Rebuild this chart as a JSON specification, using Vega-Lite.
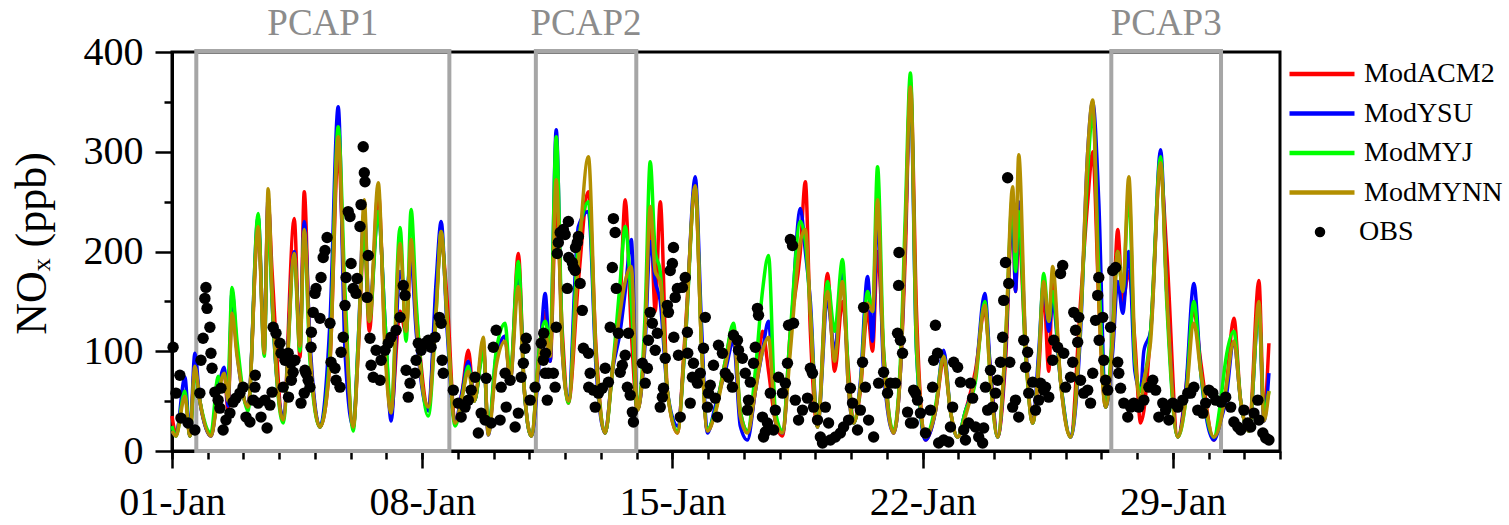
{
  "$schema": "https://vega.github.io/schema/vega-lite/v6.json",
  "width": 1108,
  "height": 399,
  "autosize": "none",
  "padding": {"left": 172, "top": 52, "right": 229, "bottom": 74},
  "background": "white",
  "config": {
    "view": {"stroke": "black", "strokeWidth": 3},
    "font": "Liberation Serif, serif"
  },
  "datasets": {
    "pcap": [
      {"name": "PCAP1", "start": 0.68, "end": 7.76, "mid": 4.22},
      {"name": "PCAP2", "start": 10.18, "end": 12.99, "mid": 11.585},
      {"name": "PCAP3", "start": 26.28, "end": 29.35, "mid": 27.815}
    ],
    "model": [
      {"d":0,"ModACM2":35,"ModYSU":20,"ModMYJ":25,"ModMYNN":20},
      {"d":0.11,"ModACM2":18,"ModYSU":15,"ModMYJ":15,"ModMYNN":15},
      {"d":0.36,"ModACM2":60,"ModYSU":74,"ModMYJ":60,"ModMYNN":55},
      {"d":0.5,"ModACM2":15,"ModYSU":15,"ModMYJ":15,"ModMYNN":15},
      {"d":0.64,"ModACM2":85,"ModYSU":98,"ModMYJ":80,"ModMYNN":85},
      {"d":0.78,"ModACM2":50,"ModYSU":50,"ModMYJ":50,"ModMYNN":50},
      {"d":1.09,"ModACM2":15,"ModYSU":15,"ModMYJ":18,"ModMYNN":15},
      {"d":1.29,"ModACM2":60,"ModYSU":60,"ModMYJ":75,"ModMYNN":55},
      {"d":1.46,"ModACM2":80,"ModYSU":84,"ModMYJ":60,"ModMYNN":78},
      {"d":1.57,"ModACM2":40,"ModYSU":45,"ModMYJ":70,"ModMYNN":50},
      {"d":1.68,"ModACM2":150,"ModYSU":160,"ModMYJ":164,"ModMYNN":138},
      {"d":1.82,"ModACM2":100,"ModYSU":100,"ModMYJ":110,"ModMYNN":95},
      {"d":2.13,"ModACM2":45,"ModYSU":44,"ModMYJ":40,"ModMYNN":44},
      {"d":2.41,"ModACM2":225,"ModYSU":235,"ModMYJ":238,"ModMYNN":225},
      {"d":2.58,"ModACM2":110,"ModYSU":100,"ModMYJ":95,"ModMYNN":98},
      {"d":2.69,"ModACM2":250,"ModYSU":255,"ModMYJ":240,"ModMYNN":263},
      {"d":2.8,"ModACM2":180,"ModYSU":150,"ModMYJ":150,"ModMYNN":160},
      {"d":3.11,"ModACM2":31,"ModYSU":35,"ModMYJ":28,"ModMYNN":31},
      {"d":3.42,"ModACM2":233,"ModYSU":200,"ModMYJ":195,"ModMYNN":198},
      {"d":3.58,"ModACM2":94,"ModYSU":110,"ModMYJ":100,"ModMYNN":105},
      {"d":3.7,"ModACM2":260,"ModYSU":230,"ModMYJ":220,"ModMYNN":222},
      {"d":3.86,"ModACM2":100,"ModYSU":110,"ModMYJ":90,"ModMYNN":100},
      {"d":4.14,"ModACM2":24,"ModYSU":24,"ModMYJ":24,"ModMYNN":24},
      {"d":4.42,"ModACM2":90,"ModYSU":130,"ModMYJ":100,"ModMYNN":90},
      {"d":4.65,"ModACM2":300,"ModYSU":345,"ModMYJ":325,"ModMYNN":315},
      {"d":4.84,"ModACM2":140,"ModYSU":100,"ModMYJ":160,"ModMYNN":140},
      {"d":5.07,"ModACM2":24,"ModYSU":24,"ModMYJ":20,"ModMYNN":24},
      {"d":5.21,"ModACM2":100,"ModYSU":110,"ModMYJ":110,"ModMYNN":100},
      {"d":5.38,"ModACM2":215,"ModYSU":240,"ModMYJ":220,"ModMYNN":252},
      {"d":5.52,"ModACM2":120,"ModYSU":140,"ModMYJ":130,"ModMYNN":130},
      {"d":5.77,"ModACM2":260,"ModYSU":240,"ModMYJ":240,"ModMYNN":269},
      {"d":5.96,"ModACM2":110,"ModYSU":130,"ModMYJ":130,"ModMYNN":100},
      {"d":6.13,"ModACM2":38,"ModYSU":30,"ModMYJ":40,"ModMYNN":38},
      {"d":6.38,"ModACM2":140,"ModYSU":180,"ModMYJ":224,"ModMYNN":208},
      {"d":6.55,"ModACM2":118,"ModYSU":160,"ModMYJ":110,"ModMYNN":120},
      {"d":6.69,"ModACM2":200,"ModYSU":190,"ModMYJ":242,"ModMYNN":212},
      {"d":6.83,"ModACM2":140,"ModYSU":120,"ModMYJ":150,"ModMYNN":130},
      {"d":7.17,"ModACM2":44,"ModYSU":40,"ModMYJ":35,"ModMYNN":44},
      {"d":7.39,"ModACM2":150,"ModYSU":170,"ModMYJ":140,"ModMYNN":140},
      {"d":7.53,"ModACM2":210,"ModYSU":230,"ModMYJ":220,"ModMYNN":220},
      {"d":7.7,"ModACM2":150,"ModYSU":120,"ModMYJ":130,"ModMYNN":130},
      {"d":7.92,"ModACM2":28,"ModYSU":30,"ModMYJ":25,"ModMYNN":28},
      {"d":8.12,"ModACM2":60,"ModYSU":60,"ModMYJ":55,"ModMYNN":55},
      {"d":8.29,"ModACM2":101,"ModYSU":90,"ModMYJ":85,"ModMYNN":80},
      {"d":8.46,"ModACM2":50,"ModYSU":50,"ModMYJ":50,"ModMYNN":50},
      {"d":8.71,"ModACM2":105,"ModYSU":105,"ModMYJ":100,"ModMYNN":114},
      {"d":8.85,"ModACM2":18,"ModYSU":16,"ModMYJ":20,"ModMYNN":16},
      {"d":9.07,"ModACM2":90,"ModYSU":95,"ModMYJ":100,"ModMYNN":85},
      {"d":9.32,"ModACM2":115,"ModYSU":115,"ModMYJ":128,"ModMYNN":110},
      {"d":9.46,"ModACM2":70,"ModYSU":70,"ModMYJ":75,"ModMYNN":70},
      {"d":9.69,"ModACM2":198,"ModYSU":180,"ModMYJ":190,"ModMYNN":165},
      {"d":9.86,"ModACM2":60,"ModYSU":60,"ModMYJ":60,"ModMYNN":60},
      {"d":10.05,"ModACM2":15,"ModYSU":15,"ModMYJ":15,"ModMYNN":15},
      {"d":10.3,"ModACM2":110,"ModYSU":100,"ModMYJ":110,"ModMYNN":100},
      {"d":10.44,"ModACM2":140,"ModYSU":158,"ModMYJ":130,"ModMYNN":120},
      {"d":10.58,"ModACM2":90,"ModYSU":90,"ModMYJ":110,"ModMYNN":95},
      {"d":10.75,"ModACM2":250,"ModYSU":322,"ModMYJ":315,"ModMYNN":272},
      {"d":10.92,"ModACM2":120,"ModYSU":100,"ModMYJ":110,"ModMYNN":100},
      {"d":11.09,"ModACM2":48,"ModYSU":52,"ModMYJ":48,"ModMYNN":50},
      {"d":11.37,"ModACM2":170,"ModYSU":225,"ModMYJ":210,"ModMYNN":190},
      {"d":11.65,"ModACM2":260,"ModYSU":240,"ModMYJ":250,"ModMYNN":295},
      {"d":11.87,"ModACM2":100,"ModYSU":80,"ModMYJ":90,"ModMYNN":90},
      {"d":12.12,"ModACM2":18,"ModYSU":18,"ModMYJ":18,"ModMYNN":18},
      {"d":12.32,"ModACM2":80,"ModYSU":80,"ModMYJ":80,"ModMYNN":80},
      {"d":12.54,"ModACM2":150,"ModYSU":120,"ModMYJ":170,"ModMYNN":140},
      {"d":12.68,"ModACM2":252,"ModYSU":160,"ModMYJ":225,"ModMYNN":170},
      {"d":12.85,"ModACM2":120,"ModYSU":212,"ModMYJ":150,"ModMYNN":185},
      {"d":13.02,"ModACM2":41,"ModYSU":41,"ModMYJ":41,"ModMYNN":41},
      {"d":13.24,"ModACM2":120,"ModYSU":110,"ModMYJ":140,"ModMYNN":120},
      {"d":13.38,"ModACM2":240,"ModYSU":210,"ModMYJ":290,"ModMYNN":245},
      {"d":13.52,"ModACM2":140,"ModYSU":170,"ModMYJ":200,"ModMYNN":180},
      {"d":13.66,"ModACM2":250,"ModYSU":150,"ModMYJ":180,"ModMYNN":170},
      {"d":13.86,"ModACM2":60,"ModYSU":60,"ModMYJ":60,"ModMYNN":60},
      {"d":14.14,"ModACM2":18,"ModYSU":25,"ModMYJ":20,"ModMYNN":18},
      {"d":14.36,"ModACM2":120,"ModYSU":110,"ModMYJ":110,"ModMYNN":115},
      {"d":14.64,"ModACM2":260,"ModYSU":275,"ModMYJ":265,"ModMYNN":266},
      {"d":14.81,"ModACM2":110,"ModYSU":130,"ModMYJ":110,"ModMYNN":110},
      {"d":14.98,"ModACM2":20,"ModYSU":18,"ModMYJ":22,"ModMYNN":20},
      {"d":15.2,"ModACM2":40,"ModYSU":45,"ModMYJ":40,"ModMYNN":38},
      {"d":15.48,"ModACM2":90,"ModYSU":80,"ModMYJ":90,"ModMYNN":85},
      {"d":15.71,"ModACM2":125,"ModYSU":110,"ModMYJ":128,"ModMYNN":120},
      {"d":15.9,"ModACM2":40,"ModYSU":25,"ModMYJ":40,"ModMYNN":35},
      {"d":16.1,"ModACM2":20,"ModYSU":11,"ModMYJ":20,"ModMYNN":18},
      {"d":16.32,"ModACM2":60,"ModYSU":60,"ModMYJ":80,"ModMYNN":60},
      {"d":16.52,"ModACM2":120,"ModYSU":100,"ModMYJ":160,"ModMYNN":100},
      {"d":16.69,"ModACM2":80,"ModYSU":130,"ModMYJ":196,"ModMYNN":114},
      {"d":16.88,"ModACM2":30,"ModYSU":30,"ModMYJ":40,"ModMYNN":30},
      {"d":17.08,"ModACM2":15,"ModYSU":18,"ModMYJ":20,"ModMYNN":18},
      {"d":17.3,"ModACM2":120,"ModYSU":110,"ModMYJ":120,"ModMYNN":100},
      {"d":17.58,"ModACM2":200,"ModYSU":243,"ModMYJ":230,"ModMYNN":210},
      {"d":17.72,"ModACM2":270,"ModYSU":200,"ModMYJ":210,"ModMYNN":222},
      {"d":17.86,"ModACM2":120,"ModYSU":150,"ModMYJ":140,"ModMYNN":140},
      {"d":18.06,"ModACM2":24,"ModYSU":24,"ModMYJ":24,"ModMYNN":24},
      {"d":18.34,"ModACM2":178,"ModYSU":150,"ModMYJ":170,"ModMYNN":160},
      {"d":18.54,"ModACM2":80,"ModYSU":100,"ModMYJ":120,"ModMYNN":90},
      {"d":18.76,"ModACM2":150,"ModYSU":180,"ModMYJ":192,"ModMYNN":170},
      {"d":18.93,"ModACM2":80,"ModYSU":60,"ModMYJ":70,"ModMYNN":60},
      {"d":19.07,"ModACM2":28,"ModYSU":28,"ModMYJ":28,"ModMYNN":28},
      {"d":19.26,"ModACM2":60,"ModYSU":70,"ModMYJ":65,"ModMYNN":65},
      {"d":19.46,"ModACM2":140,"ModYSU":175,"ModMYJ":160,"ModMYNN":148},
      {"d":19.6,"ModACM2":100,"ModYSU":110,"ModMYJ":140,"ModMYNN":140},
      {"d":19.74,"ModACM2":200,"ModYSU":240,"ModMYJ":285,"ModMYNN":252},
      {"d":19.91,"ModACM2":100,"ModYSU":80,"ModMYJ":100,"ModMYNN":90},
      {"d":20.19,"ModACM2":18,"ModYSU":18,"ModMYJ":20,"ModMYNN":18},
      {"d":20.38,"ModACM2":80,"ModYSU":80,"ModMYJ":90,"ModMYNN":80},
      {"d":20.52,"ModACM2":200,"ModYSU":220,"ModMYJ":240,"ModMYNN":220},
      {"d":20.66,"ModACM2":370,"ModYSU":360,"ModMYJ":379,"ModMYNN":365},
      {"d":20.83,"ModACM2":140,"ModYSU":100,"ModMYJ":100,"ModMYNN":120},
      {"d":21.08,"ModACM2":11,"ModYSU":11,"ModMYJ":14,"ModMYNN":14},
      {"d":21.36,"ModACM2":40,"ModYSU":40,"ModMYJ":45,"ModMYNN":40},
      {"d":21.59,"ModACM2":90,"ModYSU":101,"ModMYJ":95,"ModMYNN":95},
      {"d":21.78,"ModACM2":40,"ModYSU":40,"ModMYJ":40,"ModMYNN":40},
      {"d":21.98,"ModACM2":14,"ModYSU":14,"ModMYJ":14,"ModMYNN":14},
      {"d":22.2,"ModACM2":40,"ModYSU":40,"ModMYJ":40,"ModMYNN":35},
      {"d":22.48,"ModACM2":81,"ModYSU":75,"ModMYJ":70,"ModMYNN":75},
      {"d":22.74,"ModACM2":140,"ModYSU":158,"ModMYJ":150,"ModMYNN":146},
      {"d":22.9,"ModACM2":80,"ModYSU":80,"ModMYJ":70,"ModMYNN":70},
      {"d":23.1,"ModACM2":14,"ModYSU":14,"ModMYJ":14,"ModMYNN":14},
      {"d":23.32,"ModACM2":90,"ModYSU":100,"ModMYJ":110,"ModMYNN":110},
      {"d":23.52,"ModACM2":240,"ModYSU":250,"ModMYJ":255,"ModMYNN":265},
      {"d":23.6,"ModACM2":160,"ModYSU":160,"ModMYJ":180,"ModMYNN":200},
      {"d":23.69,"ModACM2":220,"ModYSU":250,"ModMYJ":240,"ModMYNN":297},
      {"d":23.88,"ModACM2":100,"ModYSU":110,"ModMYJ":100,"ModMYNN":110},
      {"d":24.08,"ModACM2":28,"ModYSU":28,"ModMYJ":28,"ModMYNN":28},
      {"d":24.25,"ModACM2":80,"ModYSU":100,"ModMYJ":90,"ModMYNN":90},
      {"d":24.39,"ModACM2":160,"ModYSU":170,"ModMYJ":178,"ModMYNN":170},
      {"d":24.53,"ModACM2":80,"ModYSU":120,"ModMYJ":130,"ModMYNN":130},
      {"d":24.64,"ModACM2":170,"ModYSU":150,"ModMYJ":160,"ModMYNN":185},
      {"d":24.86,"ModACM2":70,"ModYSU":70,"ModMYJ":70,"ModMYNN":70},
      {"d":25.14,"ModACM2":14,"ModYSU":14,"ModMYJ":14,"ModMYNN":14},
      {"d":25.42,"ModACM2":150,"ModYSU":120,"ModMYJ":130,"ModMYNN":130},
      {"d":25.62,"ModACM2":250,"ModYSU":300,"ModMYJ":280,"ModMYNN":300},
      {"d":25.76,"ModACM2":300,"ModYSU":350,"ModMYJ":340,"ModMYNN":352},
      {"d":25.93,"ModACM2":150,"ModYSU":250,"ModMYJ":180,"ModMYNN":150},
      {"d":26.12,"ModACM2":44,"ModYSU":44,"ModMYJ":44,"ModMYNN":44},
      {"d":26.32,"ModACM2":120,"ModYSU":100,"ModMYJ":120,"ModMYNN":110},
      {"d":26.46,"ModACM2":222,"ModYSU":170,"ModMYJ":200,"ModMYNN":200},
      {"d":26.6,"ModACM2":150,"ModYSU":138,"ModMYJ":160,"ModMYNN":160},
      {"d":26.77,"ModACM2":180,"ModYSU":200,"ModMYJ":260,"ModMYNN":275},
      {"d":26.94,"ModACM2":110,"ModYSU":80,"ModMYJ":90,"ModMYNN":100},
      {"d":27.1,"ModACM2":28,"ModYSU":60,"ModMYJ":60,"ModMYNN":50},
      {"d":27.19,"ModACM2":40,"ModYSU":100,"ModMYJ":70,"ModMYNN":70},
      {"d":27.38,"ModACM2":120,"ModYSU":120,"ModMYJ":120,"ModMYNN":110},
      {"d":27.66,"ModACM2":280,"ModYSU":302,"ModMYJ":295,"ModMYNN":289},
      {"d":27.83,"ModACM2":200,"ModYSU":160,"ModMYJ":150,"ModMYNN":160},
      {"d":28.14,"ModACM2":14,"ModYSU":14,"ModMYJ":14,"ModMYNN":14},
      {"d":28.36,"ModACM2":60,"ModYSU":60,"ModMYJ":50,"ModMYNN":50},
      {"d":28.59,"ModACM2":140,"ModYSU":168,"ModMYJ":150,"ModMYNN":128},
      {"d":28.78,"ModACM2":90,"ModYSU":80,"ModMYJ":80,"ModMYNN":80},
      {"d":29.15,"ModACM2":11,"ModYSU":11,"ModMYJ":14,"ModMYNN":14},
      {"d":29.34,"ModACM2":40,"ModYSU":30,"ModMYJ":50,"ModMYNN":30},
      {"d":29.48,"ModACM2":60,"ModYSU":50,"ModMYJ":91,"ModMYNN":60},
      {"d":29.71,"ModACM2":133,"ModYSU":110,"ModMYJ":120,"ModMYNN":110},
      {"d":29.9,"ModACM2":50,"ModYSU":50,"ModMYJ":50,"ModMYNN":50},
      {"d":30.13,"ModACM2":20,"ModYSU":20,"ModMYJ":20,"ModMYNN":20},
      {"d":30.41,"ModACM2":171,"ModYSU":140,"ModMYJ":140,"ModMYNN":150},
      {"d":30.55,"ModACM2":40,"ModYSU":30,"ModMYJ":40,"ModMYNN":30},
      {"d":30.69,"ModACM2":108,"ModYSU":78,"ModMYJ":60,"ModMYNN":60}
    ],
    "obs": [
      {"d":0.03,"v":104},{"d":0.22,"v":76},{"d":0.11,"v":58},{"d":0.25,"v":33},{"d":0.45,"v":28},{"d":0.64,"v":21},
      {"d":0.78,"v":58},{"d":0.81,"v":91},{"d":0.87,"v":113},{"d":0.92,"v":153},{"d":0.95,"v":164},{"d":0.98,"v":143},
      {"d":1.06,"v":124},{"d":1.09,"v":98},{"d":1.12,"v":83},{"d":1.2,"v":59},{"d":1.29,"v":51},{"d":1.34,"v":43},
      {"d":1.37,"v":63},{"d":1.43,"v":21},{"d":1.51,"v":31},{"d":1.62,"v":38},{"d":1.71,"v":49},{"d":1.79,"v":53},
      {"d":1.9,"v":58},{"d":1.99,"v":64},{"d":2.07,"v":34},{"d":2.18,"v":29},{"d":2.27,"v":51},{"d":2.32,"v":64},
      {"d":2.33,"v":76},{"d":2.41,"v":48},{"d":2.49,"v":34},{"d":2.6,"v":51},{"d":2.66,"v":23},{"d":2.74,"v":46},
      {"d":2.8,"v":59},{"d":2.83,"v":124},{"d":2.91,"v":118},{"d":3.02,"v":108},{"d":3.05,"v":98},{"d":3.16,"v":91},
      {"d":3.25,"v":98},{"d":3.33,"v":88},{"d":3.44,"v":91},{"d":3.11,"v":64},{"d":3.26,"v":54},{"d":3.34,"v":71},
      {"d":3.39,"v":79},{"d":3.61,"v":48},{"d":3.7,"v":58},{"d":3.75,"v":78},{"d":3.81,"v":71},{"d":3.86,"v":64},
      {"d":3.72,"v":81},{"d":3.89,"v":104},{"d":3.9,"v":119},{"d":3.95,"v":139},{"d":4.0,"v":158},{"d":4.03,"v":163},
      {"d":4.14,"v":133},{"d":4.17,"v":174},{"d":4.23,"v":194},{"d":4.28,"v":201},{"d":4.34,"v":214},{"d":4.42,"v":128},
      {"d":4.45,"v":89},{"d":4.56,"v":83},{"d":4.59,"v":71},{"d":4.7,"v":64},{"d":4.73,"v":99},{"d":4.79,"v":114},
      {"d":4.84,"v":146},{"d":4.87,"v":174},{"d":4.93,"v":240},{"d":4.98,"v":235},{"d":5.01,"v":188},{"d":5.07,"v":163},
      {"d":5.15,"v":158},{"d":5.18,"v":173},{"d":5.26,"v":225},{"d":5.29,"v":247},{"d":5.35,"v":305},{"d":5.38,"v":279},
      {"d":5.4,"v":270},{"d":5.49,"v":196},{"d":5.46,"v":154},{"d":5.54,"v":113},{"d":5.57,"v":86},{"d":5.63,"v":74},
      {"d":5.71,"v":101},{"d":5.82,"v":71},{"d":5.85,"v":91},{"d":5.96,"v":101},{"d":6.05,"v":108},{"d":6.13,"v":114},
      {"d":6.27,"v":121},{"d":6.38,"v":134},{"d":6.47,"v":166},{"d":6.52,"v":156},{"d":6.55,"v":81},{"d":6.66,"v":68},
      {"d":6.61,"v":54},{"d":6.8,"v":78},{"d":6.83,"v":91},{"d":6.89,"v":108},{"d":6.97,"v":101},{"d":7.08,"v":108},
      {"d":7.17,"v":111},{"d":7.25,"v":104},{"d":7.36,"v":114},{"d":7.48,"v":134},{"d":7.53,"v":128},{"d":7.56,"v":91},
      {"d":7.59,"v":78},{"d":7.87,"v":61},{"d":8.01,"v":48},{"d":8.09,"v":34},{"d":8.2,"v":44},{"d":8.29,"v":51},
      {"d":8.37,"v":61},{"d":8.48,"v":74},{"d":8.57,"v":18},{"d":8.65,"v":38},{"d":8.76,"v":31},{"d":8.79,"v":73},
      {"d":8.93,"v":28},{"d":8.99,"v":104},{"d":9.07,"v":121},{"d":9.18,"v":31},{"d":9.21,"v":64},{"d":9.32,"v":78},
      {"d":9.35,"v":44},{"d":9.46,"v":71},{"d":9.6,"v":24},{"d":9.69,"v":38},{"d":9.77,"v":74},{"d":9.83,"v":88},
      {"d":9.88,"v":103},{"d":9.91,"v":113},{"d":10.02,"v":51},{"d":10.16,"v":64},{"d":10.33,"v":108},{"d":10.39,"v":91},
      {"d":10.44,"v":78},{"d":10.4,"v":118},{"d":10.45,"v":98},{"d":10.5,"v":51},{"d":10.53,"v":78},{"d":10.67,"v":78},
      {"d":10.72,"v":64},{"d":10.75,"v":124},{"d":10.78,"v":198},{"d":10.81,"v":209},{"d":10.86,"v":219},{"d":10.95,"v":222},
      {"d":11.0,"v":217},{"d":11.09,"v":230},{"d":11.06,"v":163},{"d":11.1,"v":194},{"d":11.2,"v":189},{"d":11.23,"v":184},
      {"d":11.28,"v":181},{"d":11.29,"v":204},{"d":11.34,"v":209},{"d":11.37,"v":215},{"d":11.42,"v":168},{"d":11.48,"v":141},
      {"d":11.51,"v":103},{"d":11.65,"v":98},{"d":11.7,"v":78},{"d":11.66,"v":64},{"d":11.79,"v":61},{"d":11.84,"v":44},
      {"d":11.93,"v":58},{"d":12.04,"v":63},{"d":12.12,"v":83},{"d":12.21,"v":69},{"d":12.26,"v":124},{"d":12.32,"v":184},
      {"d":12.35,"v":233},{"d":12.4,"v":219},{"d":12.43,"v":163},{"d":12.49,"v":118},{"d":12.54,"v":79},{"d":12.6,"v":86},
      {"d":12.68,"v":96},{"d":12.74,"v":64},{"d":12.77,"v":118},{"d":12.82,"v":56},{"d":12.88,"v":39},{"d":12.91,"v":29},
      {"d":13.16,"v":88},{"d":13.24,"v":68},{"d":13.3,"v":83},{"d":13.33,"v":111},{"d":13.38,"v":139},{"d":13.44,"v":128},
      {"d":13.52,"v":101},{"d":13.58,"v":118},{"d":13.66,"v":44},{"d":13.72,"v":54},{"d":13.75,"v":63},{"d":13.8,"v":93},
      {"d":13.86,"v":146},{"d":13.89,"v":139},{"d":13.94,"v":181},{"d":14.0,"v":188},{"d":14.03,"v":204},{"d":14.04,"v":114},
      {"d":14.08,"v":154},{"d":14.14,"v":163},{"d":14.22,"v":34},{"d":14.17,"v":96},{"d":14.28,"v":164},{"d":14.36,"v":174},
      {"d":14.42,"v":119},{"d":14.43,"v":98},{"d":14.5,"v":48},{"d":14.56,"v":74},{"d":14.59,"v":88},{"d":14.7,"v":68},
      {"d":14.78,"v":78},{"d":14.87,"v":103},{"d":14.92,"v":134},{"d":14.98,"v":44},{"d":15.01,"v":58},{"d":15.06,"v":66},
      {"d":15.15,"v":86},{"d":15.2,"v":53},{"d":15.26,"v":34},{"d":15.29,"v":106},{"d":15.4,"v":98},{"d":15.48,"v":78},
      {"d":15.57,"v":74},{"d":15.68,"v":64},{"d":15.71,"v":116},{"d":15.82,"v":111},{"d":15.85,"v":101},{"d":15.96,"v":93},
      {"d":16.04,"v":78},{"d":16.1,"v":41},{"d":16.13,"v":51},{"d":16.18,"v":69},{"d":16.27,"v":88},{"d":16.32,"v":104},
      {"d":16.38,"v":143},{"d":16.41,"v":136},{"d":16.52,"v":34},{"d":16.55,"v":14},{"d":16.6,"v":19},{"d":16.66,"v":28},
      {"d":16.74,"v":58},{"d":16.83,"v":21},{"d":16.88,"v":41},{"d":16.97,"v":74},{"d":17.08,"v":58},{"d":17.16,"v":68},
      {"d":17.22,"v":88},{"d":17.25,"v":126},{"d":17.3,"v":212},{"d":17.36,"v":206},{"d":17.39,"v":128},{"d":17.44,"v":51},
      {"d":17.53,"v":31},{"d":17.64,"v":41},{"d":17.78,"v":53},{"d":17.86,"v":83},{"d":17.92,"v":78},{"d":17.95,"v":44},
      {"d":18.06,"v":31},{"d":18.14,"v":14},{"d":18.2,"v":8},{"d":18.28,"v":44},{"d":18.37,"v":28},{"d":18.42,"v":11},
      {"d":18.56,"v":14},{"d":18.7,"v":18},{"d":18.79,"v":24},{"d":18.93,"v":31},{"d":18.98,"v":63},{"d":19.04,"v":48},
      {"d":19.18,"v":21},{"d":19.26,"v":41},{"d":19.32,"v":89},{"d":19.35,"v":144},{"d":19.4,"v":64},{"d":19.49,"v":31},
      {"d":19.63,"v":14},{"d":19.77,"v":68},{"d":19.91,"v":79},{"d":20.02,"v":58},{"d":20.1,"v":68},{"d":20.24,"v":68},
      {"d":20.3,"v":118},{"d":20.33,"v":166},{"d":20.34,"v":199},{"d":20.38,"v":111},{"d":20.44,"v":98},{"d":20.58,"v":39},
      {"d":20.66,"v":28},{"d":20.75,"v":61},{"d":20.86,"v":51},{"d":20.8,"v":58},{"d":20.74,"v":28},{"d":20.94,"v":38},
      {"d":21.08,"v":18},{"d":21.22,"v":41},{"d":21.28,"v":64},{"d":21.31,"v":91},{"d":21.36,"v":126},{"d":21.42,"v":98},
      {"d":21.45,"v":8},{"d":21.59,"v":11},{"d":21.73,"v":9},{"d":21.78,"v":24},{"d":21.84,"v":44},{"d":21.87,"v":89},
      {"d":21.98,"v":84},{"d":22.06,"v":69},{"d":22.15,"v":21},{"d":22.2,"v":11},{"d":22.29,"v":28},{"d":22.34,"v":68},
      {"d":22.4,"v":53},{"d":22.48,"v":24},{"d":22.57,"v":14},{"d":22.68,"v":8},{"d":22.71,"v":23},{"d":22.76,"v":64},
      {"d":22.82,"v":41},{"d":22.9,"v":81},{"d":22.96,"v":44},{"d":23.04,"v":58},{"d":23.1,"v":71},{"d":23.18,"v":89},
      {"d":23.24,"v":114},{"d":23.27,"v":151},{"d":23.32,"v":189},{"d":23.38,"v":274},{"d":23.41,"v":168},{"d":23.44,"v":89},
      {"d":23.52,"v":44},{"d":23.6,"v":51},{"d":23.69,"v":34},{"d":23.83,"v":111},{"d":23.88,"v":84},{"d":23.94,"v":99},
      {"d":23.97,"v":58},{"d":24.08,"v":69},{"d":24.16,"v":41},{"d":24.25,"v":51},{"d":24.3,"v":68},{"d":24.39,"v":61},
      {"d":24.44,"v":64},{"d":24.53,"v":54},{"d":24.64,"v":91},{"d":24.67,"v":111},{"d":24.78,"v":104},{"d":24.86,"v":178},
      {"d":24.92,"v":186},{"d":24.95,"v":98},{"d":25.0,"v":64},{"d":25.14,"v":74},{"d":25.2,"v":89},{"d":25.23,"v":139},
      {"d":25.28,"v":121},{"d":25.34,"v":109},{"d":25.37,"v":134},{"d":25.42,"v":71},{"d":25.51,"v":58},{"d":25.62,"v":61},
      {"d":25.7,"v":48},{"d":25.76,"v":78},{"d":25.84,"v":131},{"d":25.9,"v":156},{"d":25.93,"v":174},{"d":25.94,"v":111},
      {"d":26.04,"v":134},{"d":26.07,"v":91},{"d":26.12,"v":71},{"d":26.18,"v":61},{"d":26.26,"v":124},{"d":26.32,"v":181},
      {"d":26.4,"v":184},{"d":26.46,"v":89},{"d":26.49,"v":78},{"d":26.54,"v":63},{"d":26.63,"v":48},{"d":26.74,"v":34},
      {"d":26.82,"v":44},{"d":26.91,"v":48},{"d":27.05,"v":44},{"d":27.19,"v":51},{"d":27.33,"v":64},{"d":27.44,"v":71},
      {"d":27.52,"v":61},{"d":27.61,"v":34},{"d":27.72,"v":48},{"d":27.8,"v":41},{"d":27.89,"v":31},{"d":28.0,"v":48},
      {"d":28.14,"v":44},{"d":28.28,"v":51},{"d":28.42,"v":58},{"d":28.5,"v":58},{"d":28.59,"v":64},{"d":28.7,"v":41},
      {"d":28.84,"v":38},{"d":28.92,"v":48},{"d":29.01,"v":61},{"d":29.12,"v":58},{"d":29.2,"v":51},{"d":29.35,"v":49},
      {"d":29.48,"v":54},{"d":29.62,"v":44},{"d":29.71,"v":29},{"d":29.82,"v":24},{"d":29.9,"v":21},{"d":29.99,"v":41},
      {"d":30.1,"v":28},{"d":30.18,"v":24},{"d":30.27,"v":38},{"d":30.38,"v":51},{"d":30.41,"v":31},{"d":30.52,"v":18},
      {"d":30.6,"v":13},{"d":30.69,"v":11}
    ]
  },
  "resolve": {"axis": {"x": "independent", "y": "independent"}},
  "layer": [
    {
      "data": {"name": "pcap"},
      "mark": {"type": "rect", "fill": null, "fillOpacity": 0, "stroke": "#a6a6a6", "strokeWidth": 4},
      "encoding": {
        "x": {"field": "start", "type": "quantitative",
          "scale": {"domain": [0, 31], "nice": false, "zero": false},
          "axis": {"orient": "bottom", "values": [0,1,2,3,4,5,6,7,8,9,10,11,12,13,14,15,16,17,18,19,20,21,22,23,24,25,26,27,28,29,30,31],
            "labels": false, "title": null, "grid": false, "domain": false, "tickSize": 8, "tickWidth": 2.5, "tickColor": "black"}},
        "x2": {"field": "end"},
        "y": {"datum": 0, "type": "quantitative",
          "scale": {"domain": [0, 400], "nice": false},
          "axis": {"orient": "left", "values": [50,150,250,350], "labels": false, "title": null, "grid": false, "domain": false, "tickSize": 8, "tickWidth": 2.5, "tickColor": "black"}},
        "y2": {"datum": 401}
      }
    },
    {
      "data": {"name": "model"},
      "transform": [{"fold": ["ModACM2", "ModYSU", "ModMYJ", "ModMYNN"]}],
      "mark": {"type": "line", "strokeWidth": 3.5, "interpolate": "monotone"},
      "encoding": {
        "x": {"field": "d", "type": "quantitative",
          "axis": {"orient": "bottom", "values": [0, 7, 14, 21, 28],
            "labelExpr": "(datum.value + 1 < 10 ? '0' : '') + (datum.value + 1) + '-Jan'",
            "labelFont": "Liberation Serif, serif", "labelFontSize": 40, "labelColor": "black", "labelPadding": 14,
            "labelFlush": false, "labelOverlap": false,
            "title": null, "grid": false, "domain": true, "domainColor": "black", "domainWidth": 3,
            "tickSize": 17, "tickWidth": 2.5, "tickColor": "black"}},
        "y": {"field": "value", "type": "quantitative",
          "axis": {"orient": "left", "values": [0, 100, 200, 300, 400],
            "labelFont": "Liberation Serif, serif", "labelFontSize": 40, "labelColor": "black", "labelPadding": 12,
            "labelFlush": false, "labelOverlap": false, "labelBaseline": "middle",
            "title": "NOₓ (ppb)", "titleFont": "Liberation Serif, serif", "titleFontSize": 44, "titleFontWeight": "normal",
            "titleColor": "black", "titleAngle": -90, "titleX": -127, "titleY": 191, "titleAlign": "center", "titleBaseline": "alphabetic",
            "grid": false, "domain": true, "domainColor": "black", "domainWidth": 3,
            "tickSize": 17, "tickWidth": 2.5, "tickColor": "black"}},
        "color": {"field": "key", "type": "nominal",
          "scale": {"domain": ["ModACM2", "ModYSU", "ModMYJ", "ModMYNN"], "range": ["#ff0000", "#0000ff", "#00ff00", "#b38f00"]},
          "legend": {"title": null, "orient": "none", "legendX": 1115, "legendY": 8, "padding": 0,
            "symbolType": "stroke", "symbolSize": 4225, "symbolStrokeWidth": 4.5, "clipHeight": 28,
            "rowPadding": 11.5, "labelFont": "Liberation Serif, serif", "labelFontSize": 28, "labelColor": "black",
            "labelOffset": 7, "labelBaseline": "middle", "labelLimit": 300}}
      }
    },
    {
      "data": {"name": "obs"},
      "mark": {"type": "point", "filled": true, "color": "black", "opacity": 1, "size": 130},
      "encoding": {
        "x": {"field": "d", "type": "quantitative", "axis": null},
        "y": {"field": "v", "type": "quantitative", "axis": null},
        "shape": {"datum": "OBS", "type": "nominal", "scale": {"range": ["circle"]},
          "legend": {"title": null, "orient": "none", "legendX": 1134, "legendY": 166, "padding": 0,
            "symbolFillColor": "black", "symbolStrokeColor": "black", "symbolSize": 110, "clipHeight": 28,
            "labelFont": "Liberation Serif, serif", "labelFontSize": 28, "labelColor": "black",
            "labelOffset": 25, "labelBaseline": "middle"}}
      }
    },
    {
      "data": {"name": "pcap"},
      "mark": {"type": "text", "font": "Liberation Serif, serif", "fontSize": 37, "color": "#8c8c8c", "baseline": "alphabetic", "align": "center"},
      "encoding": {
        "x": {"field": "mid", "type": "quantitative", "axis": null},
        "y": {"datum": 417, "type": "quantitative", "axis": null},
        "text": {"field": "name"}
      }
    }
  ]
}
